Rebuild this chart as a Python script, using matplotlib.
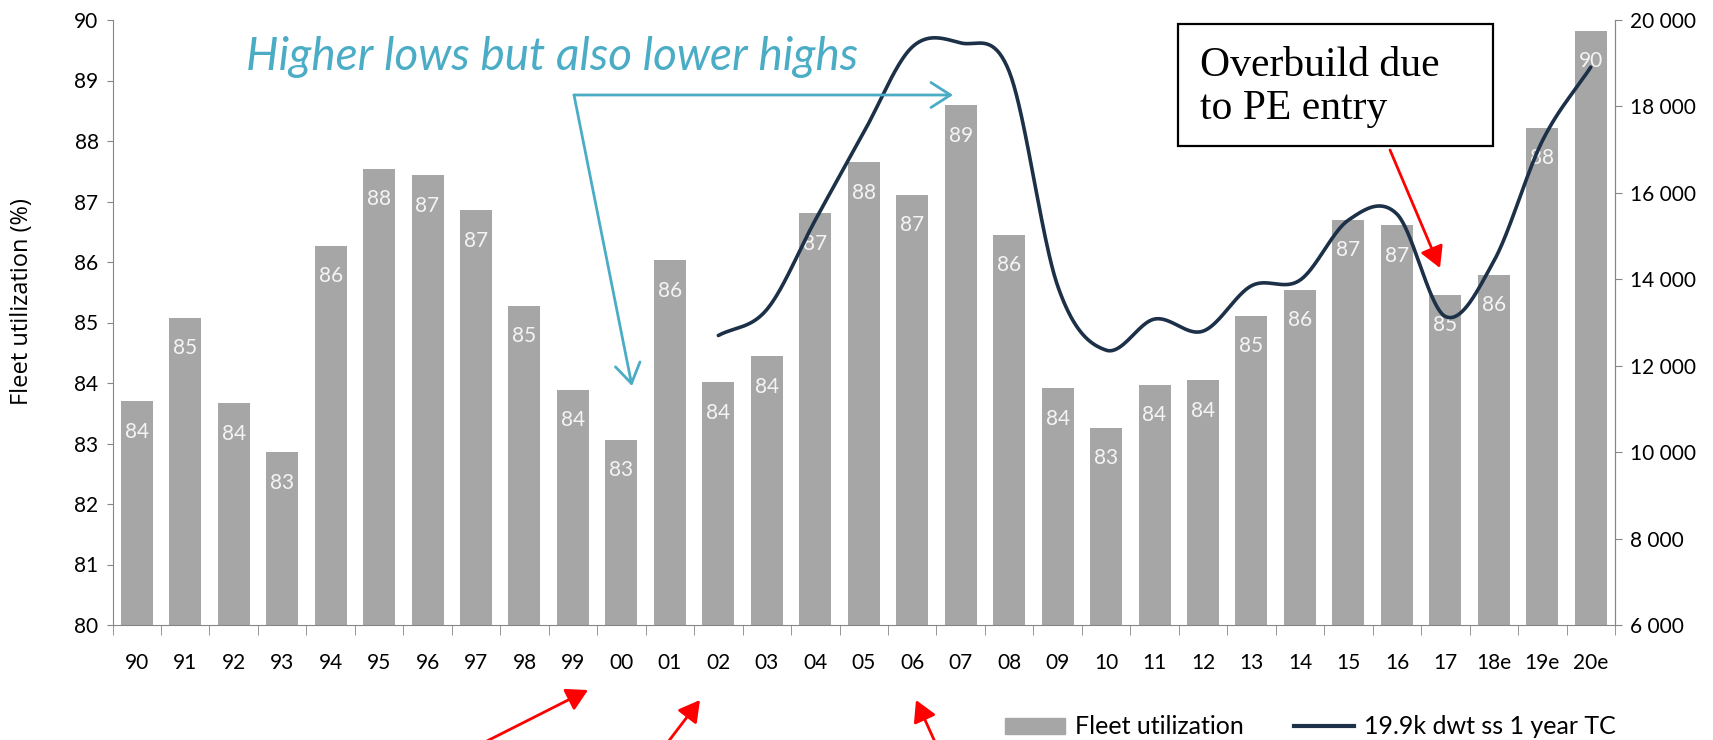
import numpy as np
import matplotlib.pyplot as plt
from matplotlib.patches import Rectangle, FancyArrowPatch
from matplotlib.lines import Line2D

# data
years = ['90', '91', '92', '93', '94', '95', '96', '97', '98', '99',
         '00', '01', '02', '03', '04', '05', '06', '07', '08', '09',
         '10', '11', '12', '13', '14', '15', '16', '17', '18e', '19e', '20e']
utilization = [83.70, 85.08, 83.67, 82.86, 86.27, 87.54, 87.43, 86.86, 85.28, 83.89,
               83.06, 86.03, 84.01, 84.44, 86.81, 87.65, 87.11, 88.59, 86.45, 83.91,
               83.26, 83.97, 84.05, 85.11, 85.54, 86.70, 86.61, 85.46, 85.79, 88.22, 89.82]
tc_years = ['02', '03', '04', '05', '06', '07', '08', '09', '10', '11',
            '12', '13', '14', '15', '16', '17', '18e', '19e', '20e']
tc_rate = [12700, 13300, 15370, 17400, 19375, 19470, 18810, 13850, 12360, 13080,
           12800, 13850, 13980, 15370, 15510, 13140, 14420, 17200, 18910]

W, H = 1713, 740
BAR = '#a6a6a6'
NAVY = '#1c3048'
TEAL = '#4bacc6'
AXC = '#868686'

plt.rcParams['font.family'] = ['Lato', 'DejaVu Sans']


def fx(px):
    return px / W


def fy(py):
    return 1 - py / H


def smooth(xs, ys, n=40):
    # Catmull-Rom style smoothing like Excel's "smoothed line"
    xs = np.asarray(xs, float)
    ys = np.asarray(ys, float)
    m = np.zeros_like(ys)
    m[1:-1] = (ys[2:] - ys[:-2]) / 2
    m[0] = ys[1] - ys[0]
    m[-1] = ys[-1] - ys[-2]
    ox, oy = [], []
    for i in range(len(xs) - 1):
        t = np.linspace(0, 1, n, endpoint=False)
        h00 = 2 * t**3 - 3 * t**2 + 1
        h10 = t**3 - 2 * t**2 + t
        h01 = -2 * t**3 + 3 * t**2
        h11 = t**3 - t**2
        ox.extend(xs[i] + t * (xs[i + 1] - xs[i]))
        oy.extend(h00 * ys[i] + h10 * m[i] + h01 * ys[i + 1] + h11 * m[i + 1])
    ox.append(xs[-1])
    oy.append(ys[-1])
    return np.array(ox), np.array(oy)


fig = plt.figure(figsize=(W / 100, H / 100), dpi=100)
ax = fig.add_axes([fx(112.5), fy(625), (1615 - 112.5) / W, (625 - 20) / H])

x = np.arange(len(years))
ax.bar(x, utilization, width=0.66, color=BAR, zorder=2)
for i, v in enumerate(utilization):
    ax.annotate(f'{v:.0f}', (i, v), xytext=(0, -22), textcoords='offset points',
                ha='center', va='center', color='#f4f4f4', fontsize=15, zorder=3)

ax.set_xlim(-0.5, len(years) - 0.5)
ax.set_ylim(80, 90)
ax.set_yticks(range(80, 91))
ax.set_xticks(x)
ax.set_xticklabels(years)
ax.set_xticks(np.arange(-0.5, len(years)), minor=True)
ax.tick_params(axis='x', which='major', length=0, pad=20, labelsize=15)
ax.tick_params(axis='x', which='minor', length=7, color=AXC, direction='out')
ax.tick_params(axis='y', length=4, color=AXC, labelsize=15, pad=6)
ax.set_ylabel('Fleet utilization (%)', fontsize=17, family=['Open Sans', 'DejaVu Sans'])
ax.yaxis.set_label_coords(-0.052, 0.534)
ax.spines['top'].set_visible(False)
for s in ['left', 'right', 'bottom']:
    ax.spines[s].set_color(AXC)

ax2 = ax.twinx()
ax2.set_ylim(6000, 20000)
ax2.set_yticks(range(6000, 20001, 2000))
ax2.set_yticklabels([f'{v:,}'.replace(',', ' ') for v in range(6000, 20001, 2000)])
ax2.tick_params(axis='y', length=5, color=AXC, labelsize=15, pad=6)
ax2.spines['top'].set_visible(False)
ax2.spines['right'].set_color(AXC)
ax2.spines['left'].set_visible(False)
ax2.spines['bottom'].set_visible(False)

tx = [years.index(y) for y in tc_years]
sx, sy = smooth(tx, tc_rate)
ax2.plot(sx, sy, color=NAVY, lw=2.6, solid_capstyle='round', zorder=4)

# legend
handles = [Rectangle((0, 0), 1, 1, color=BAR), Line2D([], [], color=NAVY, lw=3)]
fig.legend(handles, ['Fleet utilization', '19.9k dwt ss 1 year TC'],
           loc='center', bbox_to_anchor=(fx(1310), fy(727)), ncol=2, frameon=False,
           fontsize=18, handlelength=2.4, handleheight=0.6, columnspacing=2.0,
           handletextpad=0.4, borderpad=0)

# teal annotation
fig.text(fx(246), fy(57), 'Higher lows but also lower highs', style='italic',
         color=TEAL, fontsize=33, ha='left', va='center')
corner = (fx(574), fy(95))
for tip in [(fx(953), fy(95)), (fx(632), fy(386))]:
    fig.patches.append(FancyArrowPatch(corner, tip, transform=fig.transFigure,
                                       arrowstyle='->,head_length=0.7,head_width=0.45',
                                       mutation_scale=20, color=TEAL, lw=2,
                                       shrinkA=0, shrinkB=0))

# overbuild box
fig.patches.append(Rectangle((fx(1178), fy(146)), (1493 - 1178) / W, (146 - 24) / H,
                             transform=fig.transFigure, fill=True, facecolor='white',
                             edgecolor='black', lw=1.6, zorder=5))
fig.text(fx(1200), fy(87), 'Overbuild due\nto PE entry', family='Liberation Serif',
         fontsize=30, ha='left', va='center', linespacing=1.15, zorder=6)

# red arrows
red_arrows = [((1390, 150), (1440, 268)),
              ((485, 742), (588, 690)),
              ((668, 742), (700, 700)),
              ((935, 742), (916, 700))]
for (x0, y0), (x1, y1) in red_arrows:
    fig.patches.append(FancyArrowPatch((fx(x0), fy(y0)), (fx(x1), fy(y1)),
                                       transform=fig.transFigure,
                                       arrowstyle='-|>,head_length=0.8,head_width=0.45',
                                       mutation_scale=16, color='red', lw=2,
                                       shrinkA=0, shrinkB=0))

fig.savefig('out.png', dpi=100)
